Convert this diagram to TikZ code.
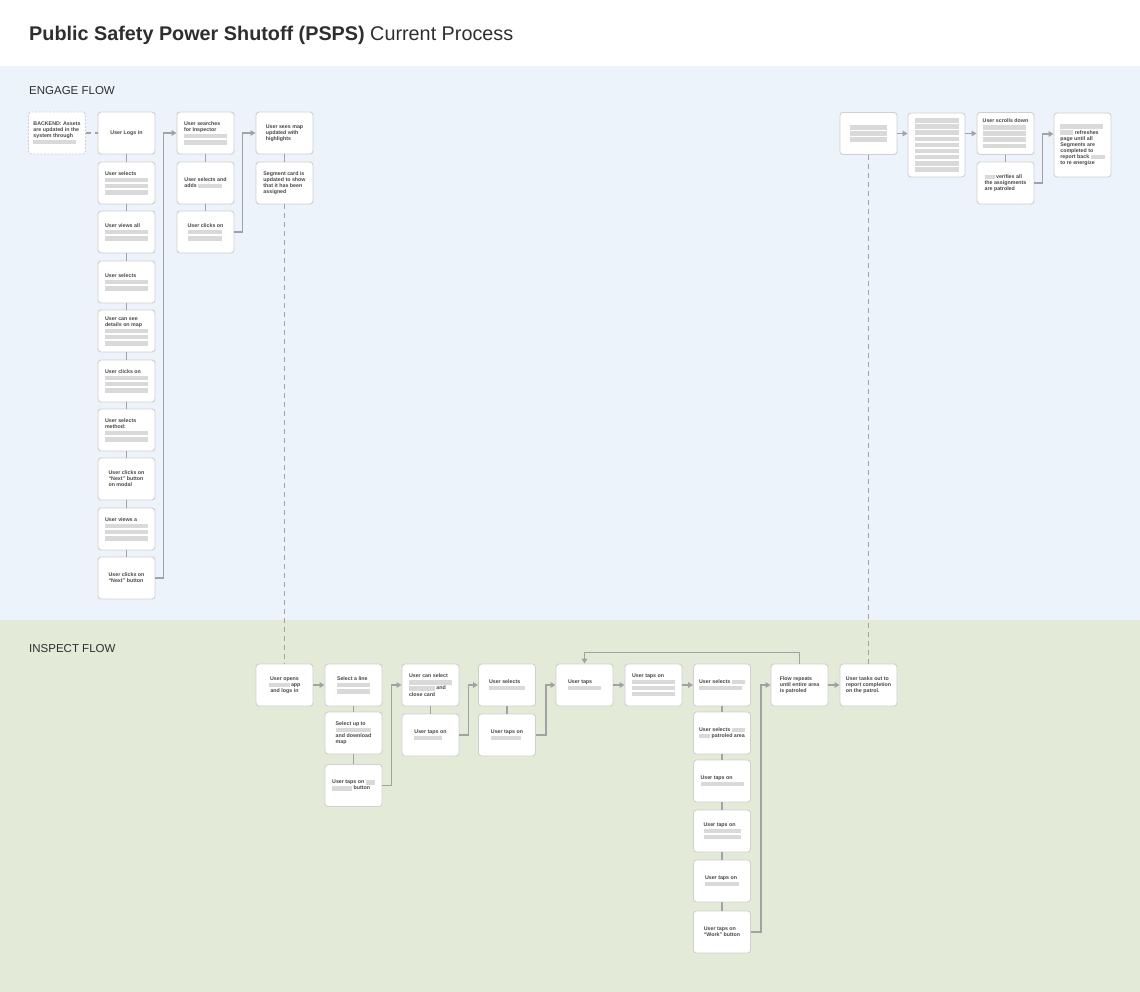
\documentclass[tikz,border=0pt]{standalone}
\usepackage{fontspec}
\setmainfont{Liberation Sans}
\usetikzlibrary{arrows.meta}
\definecolor{bandblue}{HTML}{EDF3FA}
\definecolor{bandgreen}{HTML}{E4EAD8}
\definecolor{cardline}{HTML}{CFCFCF}
\definecolor{linec}{HTML}{A2A2A2}
\definecolor{textc}{HTML}{474747}
\definecolor{titlec}{HTML}{2E2E2E}
\definecolor{barc}{HTML}{D9D9D9}
\newcommand{\bb}[1]{{\color{barc}\rule[-1pt]{#1pt}{4.6pt}}}
\newcommand{\cardfont}{\fontsize{5.3}{6.1}\selectfont\bfseries}
\tikzset{
 card/.style={draw=cardline, fill=white, rounded corners=3pt, line width=0.9pt,
   minimum width=57pt, minimum height=42pt, inner sep=2pt, align=left,
   font=\cardfont, text=textc},
 tallcard/.style={card, minimum height=64pt},
 dcard/.style={card, dash pattern=on 2pt off 1.5pt},
 link/.style={draw=linec, line width=1.3pt},
 arr/.style={link, -{Triangle[length=5pt,width=5.5pt]}},
 dlink/.style={draw=linec, line width=1.3pt, dash pattern=on 5pt off 4pt},
}
\begin{document}
\begin{tikzpicture}[x=1pt,y=-1pt]
\useasboundingbox (0,0) rectangle (1140,992);
\fill[white] (0,0) rectangle (1140,66);
\fill[bandblue] (0,66) rectangle (1140,620);
\fill[bandgreen] (0,620) rectangle (1140,992);
\node[anchor=base west, inner sep=0, text=titlec, font=\fontsize{19.8}{23}\selectfont] (title) at (29,41)
  {{\bfseries Public Safety Power Shutoff (PSPS)} Current Process};
\node[anchor=base west, inner sep=0, text=titlec, font=\fontsize{11.5}{13}\selectfont] (engage) at (29,94.5) {ENGAGE FLOW};
\node[anchor=base west, inner sep=0, text=titlec, font=\fontsize{11.5}{13}\selectfont] (inspect) at (29,652) {INSPECT FLOW};

% Engage column 1
\node[dcard] (backend) at (57,133) {BACKEND: Assets\\are updated in the\\system through\\\bb{43}};
\node[card] (e1) at (126.5,133) {User Logs in};
\node[card] (e2) at (126.5,183) {User selects\\\bb{43}\\\bb{43}\\\bb{43}};
\node[card] (e3) at (126.5,232) {User views all\\\bb{43}\\\bb{43}};
\node[card] (e4) at (126.5,282) {User selects\\\bb{43}\\\bb{43}};
\node[card] (e5) at (126.5,331) {User can see\\details on map\\\bb{43}\\\bb{43}\\\bb{43}};
\node[card] (e6) at (126.5,381) {User clicks on\\\bb{43}\\\bb{43}\\\bb{43}};
\node[card] (e7) at (126.5,430) {User selects\\method:\\\bb{43}\\\bb{43}};
\node[card] (e8) at (126.5,479) {User clicks on\\“Next” button\\on modal};
\node[card] (e9) at (126.5,529) {User views a\\\bb{43}\\\bb{43}\\\bb{43}};
\node[card] (e10) at (126.5,578) {User clicks on\\“Next” button};
% column 2
\node[card] (s1) at (205.5,133) {User searches\\for Inspector\\\bb{43}\\\bb{43}};
\node[card] (s2) at (205.5,183) {User selects and\\adds \bb{24}};
\node[card] (s3) at (205.5,232) {User clicks on\\\bb{34}\\\bb{34}};
% column 3
\node[card] (m1) at (284.5,133) {User sees map\\updated with\\highlights};
\node[card] (m2) at (284.5,183) {Segment card is\\updated to show\\that it has been\\assigned};
% top right
\node[card] (ta) at (868.5,133.5) {\bb{37}\\\bb{37}\\\bb{37}};
\node[tallcard] (tb) at (936.5,145) {\bb{44}\\\bb{44}\\\bb{44}\\\bb{44}\\\bb{44}\\\bb{44}\\\bb{44}\\\bb{44}\\\bb{44}};
\node[card] (tc) at (1005.5,133.5) {User scrolls down\\\bb{43}\\\bb{43}\\\bb{43}\\\bb{43}};
\node[card] (td) at (1005.5,183) {\bb{10} verifies all\\the assignments\\are patroled};
\node[tallcard] (te) at (1082.5,145) {\bb{43}\\\bb{13} refreshes\\page until all\\Segments are\\completed to\\report back \bb{14}\\to re energize};

% Inspect flow
\node[card, align=center] (i1) at (284.5,685) {User opens\\\bb{21} app\\and logs in};
\node[card] (i2) at (353.5,685) {Select a line\\\bb{33}\\\bb{33}};
\node[card] (i3) at (353.5,733) {Select up to\\\bb{35}\\and download\\map};
\node[card] (i4) at (353.5,785.5) {User taps on \bb{9}\\\bb{20} button};
\node[card] (i5) at (430.5,685) {User can select\\\bb{43}\\\bb{26} and\\close card};
\node[card] (i6) at (430.5,735) {User taps on\\\bb{28}};
\node[card] (i7) at (507,685) {User selects\\\bb{36}};
\node[card] (i8) at (507,735) {User taps on\\\bb{30}};
\node[card] (i9) at (584.5,685) {User taps\\\bb{33}};
\node[card] (i10) at (653.5,685) {User taps on\\\bb{43}\\\bb{43}\\\bb{43}};
\node[card] (i11) at (722,685) {User selects \bb{13}\\\bb{43}};
\node[card] (i12) at (722,733) {User selects \bb{13}\\\bb{11} patroled area};
\node[card] (i13) at (722,781) {User taps on\\\bb{43}};
\node[card] (i14) at (722,831) {User taps on\\\bb{37}\\\bb{37}};
\node[card] (i15) at (722,881) {User taps on\\\bb{34}};
\node[card] (i16) at (722,932) {User taps on\\“Work” button};
\node[card] (i17) at (799.5,685) {Flow repeats\\until entire area\\is patroled};
\node[card] (i18) at (868.5,685) {User tasks out to\\report completion\\on the patrol.};

% vertical links
\foreach \a/\b in {e1/e2,e2/e3,e3/e4,e4/e5,e5/e6,e6/e7,e7/e8,e8/e9,e9/e10,
  s1/s2,s2/s3,m1/m2,tc/td,i2/i3,i3/i4,i5/i6,i7/i8,i11/i12,i12/i13,i13/i14,i14/i15,i15/i16}
  \draw[link] (\a.south) -- (\b.north);
% dashed links
\draw[dlink] (backend.east) -- (e1.west);
\draw[dlink] (m2.south) -- (i1.north);
\draw[dlink] (ta.south) -- (i18.north);
% elbow arrows
\draw[arr] (e10.east) -- ++(8,0) |- (s1.west);
\draw[arr] (s3.east) -- ++(8,0) |- (m1.west);
\draw[arr] (td.east) -- ++(8,0) |- ([yshift=11pt]te.west);
\draw[arr] (ta.east) -- (ta.east -| tb.west);
\draw[arr] (tc.west -| tb.east) -- (tc.west);
\draw[arr] (i4.east) -- ++(9,0) |- (i5.west);
\draw[arr] (i6.east) -- ++(9,0) |- (i7.west);
\draw[arr] (i8.east) -- ++(10,0) |- (i9.west);
\draw[arr] (i16.east) -- ++(10,0) |- (i17.west);
% straight arrows
\draw[arr] (i1.east) -- (i2.west);
\draw[arr] (i9.east) -- (i10.west);
\draw[arr] (i10.east) -- (i11.west);
\draw[arr] (i17.east) -- (i18.west);
% loop
\draw[arr] (i17.north) -- ++(0,-11) -| (i9.north);
\end{tikzpicture}
\end{document}
